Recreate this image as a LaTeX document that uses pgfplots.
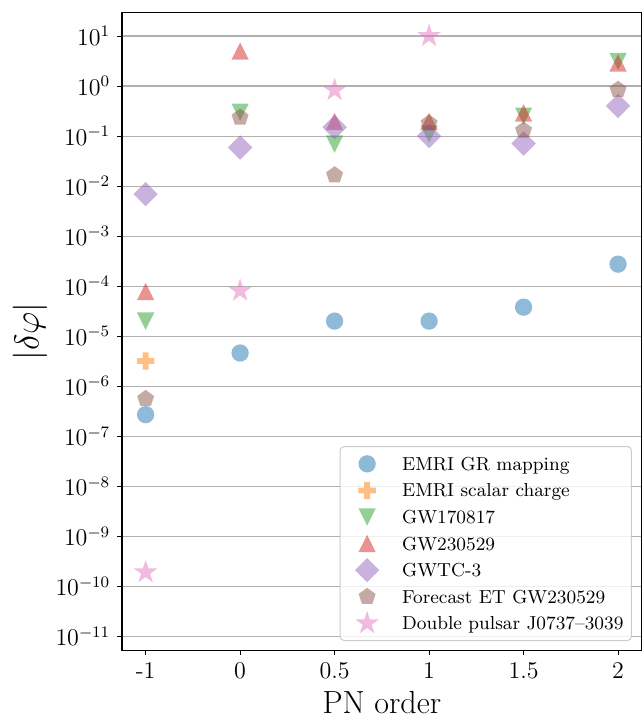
\documentclass[border=0pt]{standalone}
\usepackage{pgfplots}
\pgfplotsset{compat=1.18}
\definecolor{cblue}{HTML}{1F77B4}
\definecolor{corange}{HTML}{FF7F0E}
\definecolor{cgreen}{HTML}{2CA02C}
\definecolor{cred}{HTML}{D62728}
\definecolor{cpurple}{HTML}{9467BD}
\definecolor{cbrown}{HTML}{8C564B}
\definecolor{cpink}{HTML}{E377C2}
\definecolor{gridgray}{HTML}{B0B0B0}
\definecolor{leggray}{HTML}{CCCCCC}

\pgfdeclareplotmark{mcirc}{\pgfpathcircle{\pgfpointorigin}{\pgfplotmarksize}\pgfusepathqfill}
\pgfdeclareplotmark{mtriup}{%
  \pgfpathmoveto{\pgfqpoint{0pt}{\pgfplotmarksize}}%
  \pgfpathlineto{\pgfqpoint{-\pgfplotmarksize}{-\pgfplotmarksize}}%
  \pgfpathlineto{\pgfqpoint{\pgfplotmarksize}{-\pgfplotmarksize}}%
  \pgfpathclose\pgfusepathqfill}
\pgfdeclareplotmark{mtridown}{%
  \pgfpathmoveto{\pgfqpoint{0pt}{-\pgfplotmarksize}}%
  \pgfpathlineto{\pgfqpoint{-\pgfplotmarksize}{\pgfplotmarksize}}%
  \pgfpathlineto{\pgfqpoint{\pgfplotmarksize}{\pgfplotmarksize}}%
  \pgfpathclose\pgfusepathqfill}
\pgfdeclareplotmark{mdiam}{%
  \pgfpathmoveto{\pgfqpoint{0pt}{\pgfplotmarksize}}%
  \pgfpathlineto{\pgfqpoint{\pgfplotmarksize}{0pt}}%
  \pgfpathlineto{\pgfqpoint{0pt}{-\pgfplotmarksize}}%
  \pgfpathlineto{\pgfqpoint{-\pgfplotmarksize}{0pt}}%
  \pgfpathclose\pgfusepathqfill}
\pgfdeclareplotmark{mpent}{%
  \pgfpathmoveto{\pgfpointpolar{90}{\pgfplotmarksize}}%
  \pgfpathlineto{\pgfpointpolar{162}{\pgfplotmarksize}}%
  \pgfpathlineto{\pgfpointpolar{234}{\pgfplotmarksize}}%
  \pgfpathlineto{\pgfpointpolar{306}{\pgfplotmarksize}}%
  \pgfpathlineto{\pgfpointpolar{18}{\pgfplotmarksize}}%
  \pgfpathclose\pgfusepathqfill}
\pgfdeclareplotmark{mstar}{%
  \pgfpathmoveto{\pgfpointpolar{90}{\pgfplotmarksize}}%
  \pgfpathlineto{\pgfpointpolar{126}{0.381966\pgfplotmarksize}}%
  \pgfpathlineto{\pgfpointpolar{162}{\pgfplotmarksize}}%
  \pgfpathlineto{\pgfpointpolar{198}{0.381966\pgfplotmarksize}}%
  \pgfpathlineto{\pgfpointpolar{234}{\pgfplotmarksize}}%
  \pgfpathlineto{\pgfpointpolar{270}{0.381966\pgfplotmarksize}}%
  \pgfpathlineto{\pgfpointpolar{306}{\pgfplotmarksize}}%
  \pgfpathlineto{\pgfpointpolar{342}{0.381966\pgfplotmarksize}}%
  \pgfpathlineto{\pgfpointpolar{18}{\pgfplotmarksize}}%
  \pgfpathlineto{\pgfpointpolar{54}{0.381966\pgfplotmarksize}}%
  \pgfpathclose\pgfusepathqfill}
\pgfdeclareplotmark{mplus}{%
  \pgfpathmoveto{\pgfpoint{-\pgfplotmarksize/3}{-\pgfplotmarksize}}%
  \pgfpathlineto{\pgfpoint{\pgfplotmarksize/3}{-\pgfplotmarksize}}%
  \pgfpathlineto{\pgfpoint{\pgfplotmarksize/3}{-\pgfplotmarksize/3}}%
  \pgfpathlineto{\pgfpoint{\pgfplotmarksize}{-\pgfplotmarksize/3}}%
  \pgfpathlineto{\pgfpoint{\pgfplotmarksize}{\pgfplotmarksize/3}}%
  \pgfpathlineto{\pgfpoint{\pgfplotmarksize/3}{\pgfplotmarksize/3}}%
  \pgfpathlineto{\pgfpoint{\pgfplotmarksize/3}{\pgfplotmarksize}}%
  \pgfpathlineto{\pgfpoint{-\pgfplotmarksize/3}{\pgfplotmarksize}}%
  \pgfpathlineto{\pgfpoint{-\pgfplotmarksize/3}{\pgfplotmarksize/3}}%
  \pgfpathlineto{\pgfpoint{-\pgfplotmarksize}{\pgfplotmarksize/3}}%
  \pgfpathlineto{\pgfpoint{-\pgfplotmarksize}{-\pgfplotmarksize/3}}%
  \pgfpathlineto{\pgfpoint{-\pgfplotmarksize/3}{-\pgfplotmarksize/3}}%
  \pgfpathclose\pgfusepathqfill}

\pgfplotsset{
  mk/.style n args={3}{only marks, mark=#1, mark size=#2,
    mark options={sharp corners, draw=none, fill=#3, fill opacity=0.5},
    legend image code/.code={%
      \begin{pgfinterruptboundingbox}\draw[sharp corners,##1] plot coordinates {(0pt,0pt)};\end{pgfinterruptboundingbox}%
      \path[draw=none,fill=none] (-9.5pt,-6.64pt) rectangle (17.5pt,6.64pt);}},
}

\begin{document}
\begin{tikzpicture}
\begin{axis}[
  name=ax, scale only axis, width=259.85pt, height=319.2pt,
  xmin=-0.25, xmax=5.25, ymode=log, ymin=5.15e-12, ymax=29.8,
  xtick={0,1,2,3,4,5}, xticklabels={-1,0,0.5,1,1.5,2},
  ytick={1e-11,1e-10,1e-9,1e-8,1e-7,1e-6,1e-5,1e-4,1e-3,1e-2,1e-1,1,10},
  yminorticks=false, xminorticks=false,
  ymajorgrids, major grid style={color=gridgray, line width=0.55pt},
  tick align=outside, tick pos=left, major tick length=2.35pt,
  every tick/.style={black, line width=0.5pt},
  axis line style={line width=0.55pt},
  tick label style={font=\fontsize{12}{14}\selectfont},
  xlabel={PN order}, ylabel={$|\delta\varphi|$},
  every axis x label/.style={at={(rel axis cs:0.5,0)}, anchor=base, inner sep=0pt, yshift=-31.3pt, font=\fontsize{16}{19}\selectfont},
  every axis y label/.style={at={(rel axis cs:0,0.5)}, anchor=center, xshift=-46pt, rotate=90, font=\fontsize{16}{19}\selectfont},
  legend cell align=left,
  legend style={at={(rel axis cs:0.9813,0.0152)}, anchor=south east,
    draw=leggray, line width=0.5pt, rounded corners=2pt, fill=white, fill opacity=0.8, text opacity=1,
    inner xsep=4pt, inner ysep=2pt, font=\fontsize{9.4}{11}\selectfont, row sep=0pt,
    nodes={inner sep=0pt, text height=6.5pt, text depth=0pt}},
]
\addplot[mk={mcirc}{4.33pt}{cblue}] coordinates {(0,2.7e-7) (1,4.6e-6) (2,2.0e-5) (3,2.0e-5) (4,3.8e-5) (5,2.75e-4)};
\addlegendentry{EMRI GR mapping}
\addplot[mk={mplus}{4.33pt}{corange}] coordinates {(0,3.2e-6)};
\addlegendentry{EMRI scalar charge}
\addplot[mk={mtridown}{4.33pt}{cgreen}] coordinates {(0,2.0e-5) (1,0.30) (2,0.069) (3,0.11) (4,0.25) (5,3.1)};
\addlegendentry{GW170817}
\addplot[mk={mtriup}{4.33pt}{cred}] coordinates {(0,7.8e-5) (1,5.0) (2,0.196) (3,0.196) (4,0.29) (5,2.9)};
\addlegendentry{GW230529}
\addplot[mk={mdiam}{6.1pt}{cpurple}] coordinates {(0,0.0069) (1,0.059) (2,0.15) (3,0.10) (4,0.071) (5,0.40)};
\addlegendentry{GWTC-3}
\addplot[mk={mpent}{4.45pt}{cbrown}] coordinates {(0,5.6e-7) (1,0.235) (2,0.0166) (3,0.18) (4,0.13) (5,0.85)};
\addlegendentry{Forecast ET GW230529}
\addplot[mk={mstar}{6.2pt}{cpink}] coordinates {(0,1.9e-10) (1,8.1e-5) (2,0.83) (3,10)};
\addlegendentry{Double pulsar J0737--3039}
\end{axis}
\pgfresetboundingbox
\path ([shift={(-61pt,-33.15pt)}]ax.south west) rectangle ([shift={(1.15pt,6.15pt)}]ax.north east);
\end{tikzpicture}
\end{document}
